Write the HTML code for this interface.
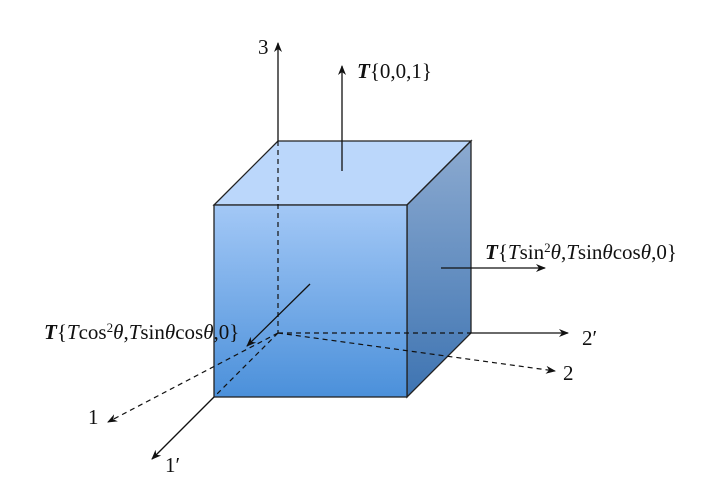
<!DOCTYPE html>
<html><head><meta charset="utf-8"><style>
html,body{margin:0;padding:0;background:#fff;}
svg{display:block;}
text{font-family:"Liberation Serif",serif;font-size:21px;fill:#111;}
</style></head><body>
<svg width="710" height="495" viewBox="0 0 710 495" xmlns="http://www.w3.org/2000/svg">
<defs>
<linearGradient id="gf" x1="0" y1="0" x2="0" y2="1">
<stop offset="0" stop-color="#a3c8f6"/><stop offset="1" stop-color="#4b90da"/></linearGradient>
<linearGradient id="gr" x1="0" y1="0" x2="0" y2="1">
<stop offset="0" stop-color="#8caad0"/><stop offset="1" stop-color="#3e74b2"/></linearGradient>
<marker id="ah" viewBox="0 0 10 10" refX="9" refY="5" markerWidth="10" markerHeight="10" markerUnits="userSpaceOnUse" orient="auto">
<path d="M0,1 L10,5 L0,9 L3,5 Z" fill="#111"/></marker>
</defs>
<polygon points="214,205 278,141 471,141 407,205" fill="#bbd7fb" stroke="#222" stroke-width="1.3"/>
<polygon points="407,205 471,141 471,333 407,397" fill="url(#gr)" stroke="#222" stroke-width="1.3"/>
<rect x="214" y="205" width="193" height="192" fill="url(#gf)" stroke="#222" stroke-width="1.3"/>
<g stroke="#111" stroke-width="1.2" stroke-dasharray="5,4" fill="none">
<line x1="278" y1="141" x2="278" y2="333"/>
<line x1="278" y1="333" x2="471" y2="333"/>
<line x1="278" y1="333" x2="214" y2="397"/>
<line x1="278" y1="333" x2="555" y2="371" marker-end="url(#ah)"/>
<line x1="278" y1="333" x2="108" y2="422" marker-end="url(#ah)"/>
</g>
<g stroke="#111" stroke-width="1.3" fill="none">
<line x1="278" y1="141" x2="278" y2="43" marker-end="url(#ah)"/>
<line x1="342" y1="171" x2="342" y2="66" marker-end="url(#ah)"/>
<line x1="471" y1="333" x2="568" y2="333" marker-end="url(#ah)"/>
<line x1="214" y1="397" x2="152" y2="459" marker-end="url(#ah)"/>
<line x1="310" y1="284" x2="247" y2="346" marker-end="url(#ah)"/>
<line x1="441" y1="268" x2="545" y2="268" marker-end="url(#ah)"/>
</g>
<text x="258" y="54">3</text>
<text x="357" y="78"><tspan font-weight="bold" font-style="italic">T</tspan>{0,0,1}</text>
<text x="485" y="259"><tspan font-weight="bold" font-style="italic">T</tspan>{<tspan font-style="italic">T</tspan>sin<tspan font-size="13" dy="-7">2</tspan><tspan font-style="italic" dy="7">θ</tspan>,<tspan font-style="italic">T</tspan>sin<tspan font-style="italic">θ</tspan>cos<tspan font-style="italic">θ</tspan>,0}</text>
<text x="44" y="339"><tspan font-weight="bold" font-style="italic">T</tspan>{<tspan font-style="italic">T</tspan>cos<tspan font-size="13" dy="-7">2</tspan><tspan font-style="italic" dy="7">θ</tspan>,<tspan font-style="italic">T</tspan>sin<tspan font-style="italic">θ</tspan>cos<tspan font-style="italic">θ</tspan>,0}</text>
<text x="582" y="345">2′</text>
<text x="563" y="380">2</text>
<text x="88" y="424">1</text>
<text x="165" y="472">1′</text>
</svg>
</body></html>
